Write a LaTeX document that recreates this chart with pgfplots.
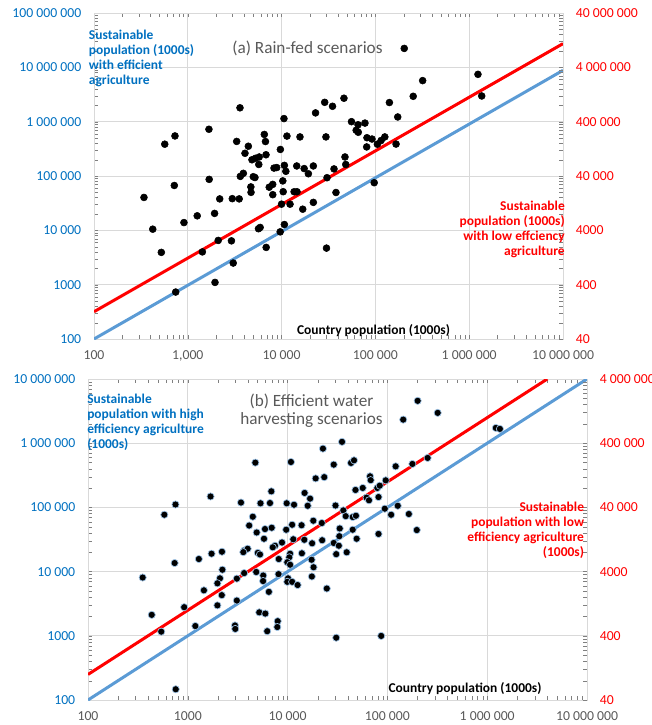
\documentclass[border=0pt]{standalone}
\usepackage{fontspec}
\setmainfont{Carlito}
\usepackage{pgfplots}
\pgfplotsset{compat=1.18}

\definecolor{axblue}{RGB}{0,112,192}
\definecolor{lineblue}{RGB}{91,155,213}
\definecolor{gridgray}{RGB}{217,217,217}
\definecolor{txtgray}{RGB}{89,89,89}
\definecolor{dotrim}{RGB}{157,195,230}

\newcommand{\ticksize}{\fontsize{10.3}{12}\selectfont}
\newcommand{\labsize}{\fontsize{10.1}{11.25}\selectfont}
\newcommand{\titsize}{\fontsize{12.9}{13.5}\selectfont}

\pgfplotsset{
  popframe/.style={
    scale only axis,
    xmin=100, xmax=1e7,
    minor xtick={}, minor ytick={},
    major tick length=0pt,
    axis line style={gridgray, line width=0.75pt},
    tick label style={font=\ticksize},
    xtick={100,1000,10000,100000,1000000,10000000},
  },
  popmain/.style={
    popframe,
    xmajorgrids, ymajorgrids,
    major grid style={gridgray, line width=0.75pt},
    xticklabel style={txtgray, anchor=north, inner sep=0pt, yshift=-8.6pt},
    yticklabel style={axblue, anchor=east, inner sep=0pt, xshift=-9.4pt},
  },
  popright/.style={
    popframe,
    axis x line=none,
    axis y line*=right,
    yticklabel style={red, anchor=west, inner sep=0pt, xshift=9.4pt},
  },
}

\begin{document}
\begin{tikzpicture}
\path[use as bounding box] (0pt,0pt) rectangle (488.25pt,-543.75pt);

% ---------------- (a) rain-fed scenarios ----------------
\begin{loglogaxis}[popmain,
  at={(70.5pt,-254.25pt)}, anchor=south west,
  width=351.75pt, height=244.5pt,
  ymin=100, ymax=1e8,
  xticklabels={100,{1,000},10 000,100 000,1 000 000,10 000 000},
  ytick={100,1000,10000,100000,1000000,10000000,100000000},
  yticklabels={100,1000,10 000,100 000,1 000 000,10 000 000,100 000 000},
]
\addplot[only marks, mark=*, mark size=2.6pt, black] coordinates {
 (3600,1.8e6) (10600,1.14e6) (23000,1.45e6) (28800,2.27e6) (34900,1.92e6)
 (46200,2.7e6) (1680,7.25e5) (730,5.46e5) (568,3.85e5) (3320,4.33e5)
 (4420,3.53e5) (6540,5.82e5) (6730,4.31e5) (11400,5.43e5) (15700,5.24e5)
 (29700,5.24e5) (9700,3.08e5) (4070,2.62e5) (4830,1.99e5) (5270,2.12e5)
 (5770,2.24e5) (6820,2.46e5) (5710,1.63e5) (8300,1.40e5) (8870,1.43e5)
 (10700,1.57e5) (11100,1.22e5) (14500,1.53e5) (17400,1.37e5) (19300,1.10e5)
 (21800,1.53e5) (47400,2.24e5) (48300,1.63e5) (36200,1.35e5) (30500,93000)
 (3630,98400) (3910,1.12e5) (4990,97000) (5200,93800) (1690,86700)
 (7380,62200) (8040,70100) (8050,45300) (10300,81300) (10400,51400)
 (13600,51300) (14600,51300) (38000,49700) (97100,75300) (4700,63000)
 (4720,50000) (910,13900) (1260,18500) (1930,20500) (2190,37900)
 (2980,38300) (3530,37900) (9980,30300) (12300,30300) (16800,24500)
 (21800,32700) (5670,10700) (5910,11300) (10700,12800) (9660,9380)
 (2110,6520) (2920,6410) (1430,4010) (6850,4850) (30100,4710)
 (341,40300) (718,66900) (423,10500) (522,3930) (743,731)
 (1950,1100) (3050,2500) (55600,1.0e6) (65300,8.77e5) (77400,9.42e5)
 (62400,6.95e5) (65700,6.38e5) (81300,5.06e5) (92000,4.79e5) (126000,5.24e5)
 (115000,4.5e5) (105000,3.85e5) (80700,3.43e5) (166000,3.87e5) (141000,2.25e6)
 (173000,1.22e6) (203000,2.23e7) (1240000,7.43e6) (1360000,2.97e6) (319000,5.7e6)
 (253000,2.93e6)
};
% efficient agriculture: one-to-one line
\addplot[lineblue, line width=2.25pt] coordinates {(100,100) (1e7,8.8e6)};
% low efficiency agriculture
\addplot[red, line width=2.25pt] coordinates {(100,318) (1e7,2.73e7)};
\end{loglogaxis}

\begin{loglogaxis}[popright,
  at={(70.5pt,-254.25pt)}, anchor=south west,
  width=351.75pt, height=244.5pt,
  ymin=40, ymax=4e7,
  ytick={40,400,4000,40000,400000,4000000,40000000},
  yticklabels={40,400,4000,40 000,400 000,4 000 000,40 000 000},
]
\addplot[draw=none] coordinates {(100,40) (1e7,4e7)};
\end{loglogaxis}

\node[anchor=base, txtgray, font=\titsize, inner sep=0pt] at (230.6pt,-40pt) {(a) Rain-fed scenarios};
\node[anchor=north west, align=left, axblue, font=\labsize\bfseries, inner sep=0pt]
  at (66.5pt,-22pt) {Sustainable\\population (1000s)\\with efficient\\agriculture};
\node[anchor=north east, align=right, red, font=\labsize\bfseries, inner sep=0pt]
  at (423.75pt,-150.5pt) {Sustainable\\population (1000s)\\with low effciency\\agriculture};
\node[anchor=base, black, font=\labsize\bfseries, inner sep=0pt] at (280.1pt,-250.5pt) {Country population (1000s)};

% ---------------- (b) efficient water harvesting scenarios ----------------
\begin{loglogaxis}[popmain,
  at={(66pt,-525pt)}, anchor=south west,
  width=374.25pt, height=240.75pt,
  ymin=100, ymax=1e7,
  xticklabels={100,1000,10 000,100 000,1 000 000,10 000 000},
  ytick={100,1000,10000,100000,1000000,10000000},
  yticklabels={100,1000,10 000,100 000,1 000 000,10 000 000},
]
\addplot[only marks, mark=*, mark size=2.7pt, draw=dotrim, fill=black, line width=0.5pt] coordinates {
 (35100,1.05e6) (22600,8.24e5) (4750,4.98e5) (10800,5.1e5) (29000,4.64e5)
 (43200,4.93e5) (46300,5.41e5) (121000,4.36e5) (19100,2.83e5) (23300,2.96e5)
 (67000,3.05e5) (68000,2.66e5) (96200,2.64e5) (6870,1.78e5) (1690,1.48e5)
 (753,1.11e5) (3410,1.19e5) (5350,1.16e5) (6660,1.17e5) (9790,1.16e5)
 (11600,1.10e5) (14800,1.68e5) (16800,1.37e5) (15900,1.06e5) (47900,1.87e5)
 (56600,2.01e5) (61800,1.42e5) (65400,1.29e5) (81500,1.45e5) (79300,2.01e5)
 (83800,2.18e5) (30200,1.07e5) (36200,89800) (94200,95500) (109000,76900)
 (127000,1.06e5) (4480,71600) (4120,52200) (5940,46000) (6930,48200)
 (4900,40700) (9680,44900) (11100,53700) (13800,52800) (18100,62000)
 (22000,57100) (38200,73100) (44900,70800) (48400,74200) (33300,47000)
 (44900,44900) (81500,38600) (5800,32500) (11400,31900) (14700,31300)
 (22200,30800) (17600,27600) (29000,27900) (32600,25300) (49200,32500)
 (8790,28400) (7480,25300) (7100,23900) (3680,21300) (3980,22700)
 (3600,20100) (2200,20400) (1730,19000) (5030,19600) (5290,18500)
 (13900,19300) (10600,19000) (10400,16700) (30700,18700) (39100,20000)
 (1290,15700) (8150,15700) (738,13600) (2220,10700) (2100,7860)
 (1980,6570) (1450,5110) (3100,7780) (3670,9480) (4850,9860)
 (5700,8690) (5680,7130) (8110,9140) (9930,14000) (10600,12800)
 (17400,15300) (18200,11700) (10100,7860) (9930,6930) (11100,6930)
 (12600,6180) (17500,8390) (24700,5450) (6490,4840) (2190,4300)
 (3100,3540) (920,2790) (1980,2980) (5200,2320) (5980,2220)
 (1190,1420) (2970,1450) (2990,1280) (7960,1690) (7890,1370)
 (6250,1180) (30700,934) (86700,996) (353,8090) (435,2120)
 (542,1160) (757,147) (582,76900) (201000,4.57e6) (319000,2.97e6)
 (144000,2.33e6) (1220000,1.73e6) (1340000,1.67e6) (178000,4.75e5) (253000,5.9e5)
 (164000,78900) (197000,44400) (33000,35600)
};
\addplot[lineblue, line width=2.25pt] coordinates {(100,100) (1e7,1e7)};
\addplot[red, line width=2.25pt] coordinates {(100,250) (4e6,1e7)};
\end{loglogaxis}

\begin{loglogaxis}[popright,
  at={(66pt,-525pt)}, anchor=south west,
  width=374.25pt, height=240.75pt,
  ymin=40, ymax=4e6,
  ytick={40,400,4000,40000,400000,4000000},
  yticklabels={40,400,4000,40 000,400 000,4 000 000},
]
\addplot[draw=none] coordinates {(100,40) (1e7,4e6)};
\end{loglogaxis}

\node[anchor=base, txtgray, font=\titsize, inner sep=0pt] at (233.6pt,-304.5pt) {(b) Efficient water};
\node[anchor=base, txtgray, font=\titsize, inner sep=0pt] at (233.6pt,-318pt) {harvesting scenarios};
\node[anchor=north west, align=left, axblue, font=\labsize\bfseries, inner sep=0pt]
  at (65.25pt,-295pt) {Sustainable\\population with high\\efficiency agriculture\\(1000s)};
\node[anchor=north east, align=right, red, font=\labsize\bfseries, inner sep=0pt]
  at (438.2pt,-376pt) {Sustainable\\population with low\\efficiency agriculture\\(1000s)};
\node[anchor=base, black, font=\labsize\bfseries, inner sep=0pt] at (348.75pt,-519.5pt) {Country population (1000s)};
\end{tikzpicture}
\end{document}
